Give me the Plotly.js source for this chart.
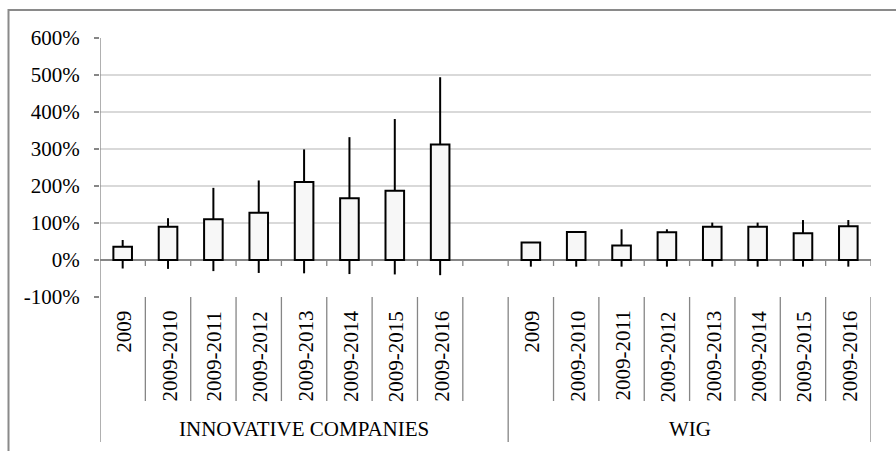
<!DOCTYPE html>
<html>
<head>
<meta charset="utf-8">
<script src="https://cdn.plot.ly/plotly-3.0.1.min.js"></script>
<style>html,body{margin:0;padding:0;background:#fff;}#chart{width:896px;height:451px;}</style>
</head>
<body>
<div id="chart"></div>
<script>
// ---- data (percent) ----
const groups = ['INNOVATIVE COMPANIES', 'WIG'];
const periods = ['2009', '2009-2010', '2009-2011', '2009-2012', '2009-2013', '2009-2014', '2009-2015', '2009-2016'];
const innovValue = [36, 90, 110, 128, 211, 167, 187, 312];
const innovHigh  = [54, 113, 195, 215, 299, 332, 381, 494];
const innovLow   = [-23, -24, -30, -35, -36, -38, -39, -41];
const wigValue   = [47, 76, 39, 75, 90, 90, 72, 91];
const wigHigh    = [47, 76, 83, 83, 101, 101, 108, 108];
const wigLow     = [-18, -18, -18, -18, -18, -18, -18, -18];
const yTickVals  = [-1, 0, 1, 2, 3, 4, 5, 6];
const yTickText  = ['-100%', '0%', '100%', '200%', '300%', '400%', '500%', '600%'];

// ---- layout geometry ----
const W = 896, H = 451;
const M = {l: 100, r: 25, t: 38, b: 154};
const PW = W - M.l - M.r, PH = H - M.t - M.b;
const nSlots = periods.length * 2 + 1; // gap slot after first group
const px2y = p => (H - M.b - p) / PH;   // pixel y -> paper y
const px2x = p => (p - M.l) / PW;       // pixel x -> paper x
const FONT = 'Liberation Serif';
const FS = 21;
const GRAY = '#868686';

const series = [
  {v: innovValue, h: innovHigh, l: innovLow, offset: 0},
  {v: wigValue, h: wigHigh, l: wigLow, offset: periods.length + 1}
];

const barX = [], barY = [], wx = [], wy = [];
series.forEach(s => {
  s.v.forEach((v, i) => {
    const x = s.offset + i + 0.5;
    barX.push(x); barY.push(v / 100);
    wx.push(x, x, null, x, x, null);
    wy.push(v / 100, s.h[i] / 100, null, 0, s.l[i] / 100, null);
  });
});

const traces = [
  {type: 'bar', x: barX, y: barY, width: 0.41, base: 0,
   marker: {color: '#f7f7f7', line: {color: '#000', width: 2}}, hoverinfo: 'skip'},
  {type: 'scatter', mode: 'lines', x: wx, y: wy, connectgaps: false,
   line: {color: '#000', width: 2}, hoverinfo: 'skip'}
];

const shapes = [];
const annotations = [];
// outer frame
shapes.push({type: 'rect', xref: 'paper', yref: 'paper', x0: px2x(8.5), x1: px2x(910), y0: px2y(10), y1: px2y(470),
  line: {color: '#8a8a8a', width: 2}, fillcolor: 'rgba(0,0,0,0)', layer: 'below'});
// category boundaries
for (let k = 0; k <= nSlots; k++) {
  const isLong = (k === 0 || k === periods.length + 1 || k === nSlots);
  shapes.push({type: 'line', xref: 'x', yref: 'paper', x0: k, x1: k, y0: px2y(H - M.b), y1: px2y(isLong ? 442 : 401),
    line: {color: GRAY, width: 1.3}});
  if (k > 0) {
    shapes.push({type: 'line', xref: 'x', yref: 'y', x0: k, x1: k, y0: 0, y1: -6 / (PH / 7),
      line: {color: GRAY, width: 1.3}});
  }
}
// y axis line
shapes.push({type: 'line', xref: 'x', yref: 'paper', x0: 0, x1: 0, y0: 0, y1: 1, line: {color: GRAY, width: 1.3}});

// period labels (rotated)
series.forEach(s => {
  periods.forEach((p, i) => {
    annotations.push({text: p, x: s.offset + i + 0.5, xref: 'x', yref: 'paper', y: px2y(309),
      yanchor: 'top', xanchor: 'center', textangle: -90, showarrow: false, xshift: 1,
      font: {family: FONT, size: FS, color: '#000'}});
  });
});
// group labels
groups.forEach((g, gi) => {
  const x0 = gi === 0 ? 0 : periods.length + 1;
  const x1 = gi === 0 ? periods.length + 1 : nSlots;
  annotations.push({text: g, x: (x0 + x1) / 2, xref: 'x', yref: 'paper', y: px2y(429),
    yanchor: 'middle', xanchor: 'center', showarrow: false,
    font: {family: FONT, size: FS, color: '#000'}});
});

const layout = {
  width: W, height: H, margin: M, showlegend: false, hovermode: false,
  paper_bgcolor: '#fff', plot_bgcolor: '#fff',
  font: {family: FONT, size: FS, color: '#000'},
  xaxis: {range: [0, nSlots], showgrid: false, zeroline: false, showline: false, showticklabels: false, ticks: '', fixedrange: true},
  yaxis: {range: [-1, 6], tickvals: yTickVals, ticktext: yTickText, showgrid: true, gridcolor: '#d9d9d9', gridwidth: 1.3,
    zeroline: true, zerolinecolor: GRAY, zerolinewidth: 1.3, showline: false,
    ticks: 'outside', ticklen: 5, tickcolor: GRAY, tickwidth: 1.3, ticklabelstandoff: 10,
    tickfont: {family: FONT, size: FS, color: '#000'}, fixedrange: true},
  shapes: shapes, annotations: annotations
};

Plotly.newPlot('chart', traces, layout, {staticPlot: true, displayModeBar: false});
</script>
</body>
</html>
